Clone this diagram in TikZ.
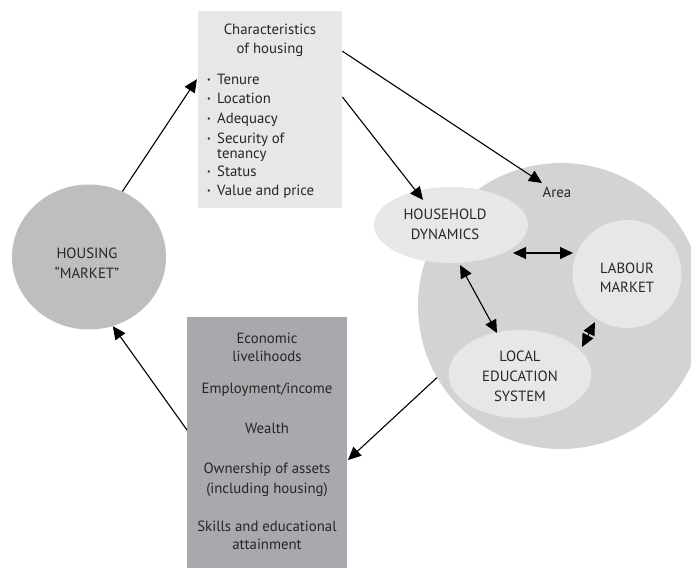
\documentclass[tikz,border=0pt]{standalone}
\usepackage{fontspec}
\setmainfont{PT Sans}
\usetikzlibrary{shapes.geometric,arrows.meta,calc}
\definecolor{boxlight}{HTML}{E6E7E8}
\definecolor{boxdark}{HTML}{A7A9AC}
\definecolor{housinggray}{HTML}{BCBEC0}
\definecolor{areagray}{HTML}{D1D3D4}
\definecolor{inkgray}{HTML}{262626}
\newcommand{\smallbul}{\raisebox{1.2pt}{\fontsize{8}{8}\selectfont •}}
\begin{document}
\begin{tikzpicture}[x=1pt,y=-1pt,
  every node/.style={font=\fontsize{14.8}{19.5}\selectfont, text=inkgray},
  blob/.style={ellipse, inner sep=0pt, align=center},
  boxshape/.style={rectangle, inner sep=0pt, anchor=north west},
  line/.style={anchor=base, inner sep=0pt},
  lline/.style={anchor=base west, inner sep=0pt},
  arr/.style={draw=black, line width=1.1pt, -{Triangle[length=13pt,width=12pt]}},
  dbl/.style={draw=black, line width=1.1pt, {Triangle[length=13pt,width=12pt]}-{Triangle[length=13pt,width=12pt]}}]
\useasboundingbox (0,0) rectangle (691,568);
\clip (0,0) rectangle (691,568);
\fill[white] (0,0) rectangle (691,568);

% area
\node[blob, fill=areagray, minimum width=286pt, minimum height=286pt] (area) at (561,306) {};
\node[line] (arealabel) at (557,197) {Area};

% inner blobs
\node[blob, fill=boxlight, minimum width=154pt, minimum height=76pt] (hh) at (451,225) {};
\node[line] (hh1) at (445,219) {HOUSEHOLD};
\node[line] (hh2) at (445,239) {DYNAMICS};

\node[blob, fill=boxlight, minimum width=109pt, minimum height=108pt] (labour) at (627,274) {};
\node[line] (lab1) at (627,273) {LABOUR};
\node[line] (lab2) at (627,292) {MARKET};

\node[blob, fill=boxlight, minimum width=143pt, minimum height=88pt] (edu) at (520,374) {};
\node[line] (edu1) at (520,361) {LOCAL};
\node[line] (edu2) at (520,381) {EDUCATION};
\node[line] (edu3) at (520,401) {SYSTEM};

% housing market
\node[blob, fill=housinggray, minimum width=154pt, minimum height=145pt] (housing) at (89,257) {};
\node[line] (hm1) at (87,258) {HOUSING};
\node[line] (hm2) at (87,278) {“MARKET”};

% characteristics box
\node[boxshape, fill=boxlight, minimum width=144pt, minimum height=197pt] (chars) at (198,11) {};
\node[line] (ct1) at (270,34) {Characteristics};
\node[line] (ct2) at (270,53) {of housing};
\foreach \n/\y/\t in {a/84/Tenure, b/103/Location, c/123/Adequacy, d/143/Security of, f/176/Status, g/195/Value and price}{
  \node[lline] (bul\n) at (207,\y) {\smallbul};
  \node[lline] (item\n) at (217,\y) {\t};
}
\node[lline] (iteme) at (217,158) {tenancy};

% economic livelihoods box
\node[boxshape, fill=boxdark, minimum width=160pt, minimum height=251pt] (econ) at (187,317) {};
\foreach \n/\y/\t in {1/343/Economic, 2/361/livelihoods, 3/393/{Employment/income}, 4/433/Wealth, 5/473/Ownership of assets, 6/493/(including housing), 7/531/Skills and educational, 8/549/attainment}{
  \node[line] (ec\n) at (267,\y) {\t};
}

% arrow end points
\coordinate (areatip) at (542,183);
\coordinate (hhtip) at (423,200);
\coordinate (hhR) at (513,253);
\coordinate (labL) at (573,253);
\coordinate (hhB) at (460,265);
\coordinate (eduT) at (497,333);
\coordinate (labB) at (595,322);
\coordinate (eduR) at (582,347);
\coordinate (econtip) at (348,460);
\coordinate (econstart) at (187,430);

\draw[arr, shorten >=2pt] (housing.63) -- (chars.156);
\draw[arr] (chars.39) -- (areatip);
\draw[arr] (chars.10) -- (hhtip);
\draw[dbl] (hhR) -- (labL);
\draw[dbl] (hhB) -- (eduT);
\draw[dbl] (labB) -- (eduR);
\draw[arr] (area.210) -- (econtip);
\draw[arr] (econstart) -- (housing.-71);
\end{tikzpicture}
\end{document}
